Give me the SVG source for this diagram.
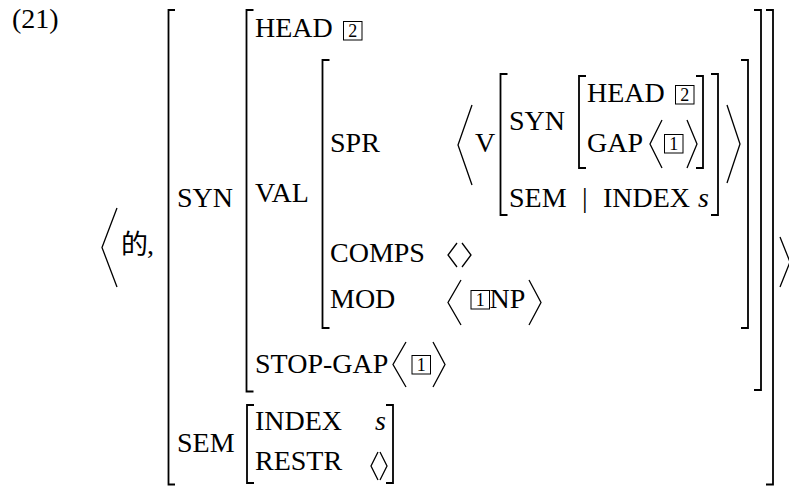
<svg xmlns="http://www.w3.org/2000/svg" width="789" height="486" viewBox="0 0 789 486">
<style>
.t{font-family:"Liberation Serif","Times New Roman",serif;font-size:28px;fill:#000}
.i{font-style:italic}
.n{font-family:"Liberation Serif","Times New Roman",serif;font-size:18px;fill:#000;text-anchor:middle}
.cjk{font-family:"Noto Sans CJK SC","Noto Sans CJK TC",sans-serif;font-size:27px;fill:#000}
.br{fill:none;stroke:#000;stroke-width:1.8}
.ang{fill:none;stroke:#000;stroke-width:1.3}
.box{fill:none;stroke:#000;stroke-width:1}
</style>
<rect width="789" height="486" fill="#fff"/>
<text class="t" x="12" y="28">(21)</text>

<g id="outer">
  <path class="ang" d="M117,208 L102,247.5 L117,287"/>
  <text x="121" y="254"><tspan class="cjk">的</tspan><tspan class="t" x="147">,</tspan></text>
  <path class="br" d="M175,10 H168.5 V484.5 H175"/>
  <path class="br" d="M766,10 H773 V484.5 H766"/>
  <path class="ang" d="M780,237 L790,262 L780,287"/>
  <text class="t" x="177" y="207">SYN</text>
  <text class="t" x="177" y="452">SEM</text>
</g>

<g id="syn">
  <path class="br" d="M253.5,10 H246.5 V391.5 H253.5"/>
  <path class="br" d="M754,10 H761 V390 H754"/>
  <text class="t" x="255" y="37">HEAD</text>
  <rect class="box" x="343.5" y="21.5" width="18.5" height="18.5"/>
  <text class="n" x="352.8" y="37">2</text>
  <text class="t" x="255" y="202">VAL</text>
  <text class="t" x="255" y="373">STOP-GAP</text>
  <path class="ang" d="M406,342 L393,364.5 L406,387"/>
  <rect class="box" x="412" y="355.5" width="18.5" height="18.5"/>
  <text class="n" x="421.3" y="371">1</text>
  <path class="ang" d="M433,342 L445,364.5 L433,387"/>
</g>

<g id="val">
  <path class="br" d="M329.5,60 H322.5 V328 H329.5"/>
  <path class="br" d="M741,60 H748 V328 H741"/>
  <text class="t" x="330" y="152">SPR</text>
  <text class="t" x="330" y="262">COMPS</text>
  <path class="ang" d="M457,243 L448,255 L457,267 M462,243 L471,255 L462,267"/>
  <text class="t" x="330" y="308">MOD</text>
  <path class="ang" d="M461,280 L448,302.5 L461,325"/>
  <rect class="box" x="471" y="290.5" width="18.5" height="18.5"/>
  <text class="n" x="480.3" y="306">1</text>
  <text class="t" x="489.5" y="308">NP</text>
  <path class="ang" d="M529,280 L541,302.5 L529,325"/>
</g>

<g id="spr-value">
  <path class="ang" d="M472,105 L458,145 L472,185"/>
  <text class="t" x="475" y="152">V</text>
  <path class="br" d="M507.5,74 H500.5 V215 H507.5"/>
  <path class="br" d="M711,74 H718 V215 H711"/>
  <path class="ang" d="M727,105 L740,144 L727,183"/>
  <text class="t" x="509" y="130">SYN</text>
  <text class="t" x="509" y="207">SEM</text>
  <text class="t" x="582" y="207">|</text>
  <text class="t" x="603" y="207">INDEX</text>
  <text class="t i" x="698" y="207">s</text>
</g>

<g id="inner-syn">
  <path class="br" d="M586,76 H579 V168 H586"/>
  <path class="br" d="M696,76 H703 V168 H696"/>
  <text class="t" x="587" y="102">HEAD</text>
  <rect class="box" x="675.5" y="85.5" width="18.5" height="18.5"/>
  <text class="n" x="684.8" y="101">2</text>
  <text class="t" x="587" y="152">GAP</text>
  <path class="ang" d="M662,120 L650,144 L662,168"/>
  <rect class="box" x="664.5" y="134.5" width="18.5" height="18.5"/>
  <text class="n" x="673.8" y="150">1</text>
  <path class="ang" d="M687,120 L697,144 L687,168"/>
</g>

<g id="sem">
  <path class="br" d="M254,405 H247 V483 H254"/>
  <path class="br" d="M386,405 H393 V483 H386"/>
  <text class="t" x="255" y="430">INDEX</text>
  <text class="t i" x="375" y="430">s</text>
  <text class="t" x="255" y="470">RESTR</text>
  <path class="ang" d="M378,452 L371,466 L378,480 M380,452 L387,466 L380,480"/>
</g>
<g id="connectors"/>
</svg>
